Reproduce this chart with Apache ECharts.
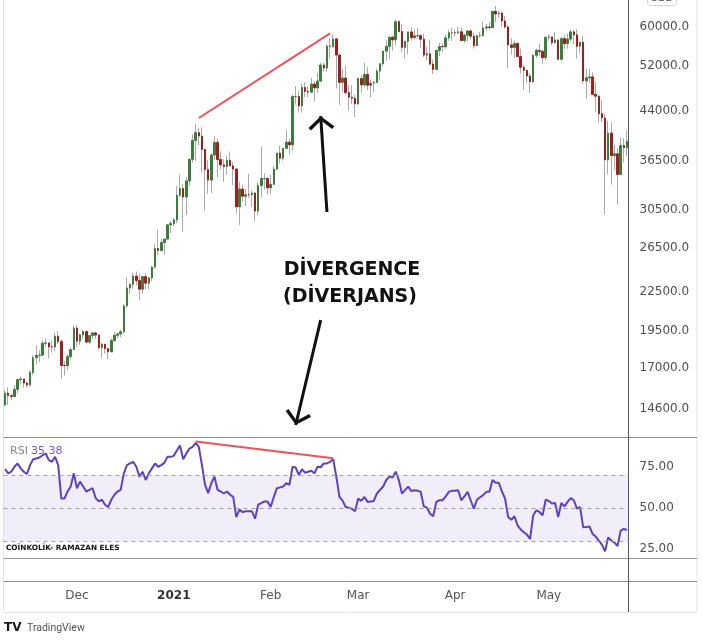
<!DOCTYPE html>
<html><head><meta charset="utf-8">
<script src="https://cdn.jsdelivr.net/npm/echarts@6/dist/echarts.min.js"></script>
<style>html,body{margin:0;padding:0;background:#fff;}#c{width:703px;height:640px;}</style>
</head><body><div id="c"></div>
<script>
// ---- data (daily BTC/USD, 2020-11-08 .. 2021-05-26) ----
const startDate = '2020-11-08';
const opens = [
14833,15479,15333,15290,15701,16276,16317,16068,15955,16716,17645,17804,17817,18621,18642,18370,18364,19107,18733,17150,17139,17719,18184,
19695,18765,19205,19446,18699,19154,19346,19192,18321,18554,18250,18036,18809,19175,19274,19427,21380,22847,23150,23870,23478,22745,23824,23254,23716,24693,26443,26246,27037,27376,28856,
28982,29393,32195,33000,31988,33950,36769,39432,40582,40088,38150,35404,34051,37371,39144,36742,36018,35792,36630,35891,35468,30850,32945,32078,32259,32254,32467,30366,33364,34252,34262,
33092,33526,35466,37618,36936,38290,39186,38795,46374,46420,44807,47969,47287,47153,48577,47911,49133,52119,51552,55906,55841,57408,54087,48891,49676,47073,46276,46106,
45135,49587,48440,50349,48374,48751,48882,50971,52375,54884,55851,57773,57221,61188,59000,55638,56900,58913,57665,58075,58086,57351,54083,54341,52303,51293,55025,55817,55777,57628,58730,
58736,58720,58950,57058,58202,59129,57991,56000,58080,58092,59778,60008,59860,63576,62960,63159,61334,60006,56150,55633,56425,53787,51690,51125,50047,49004,54021,55033,54824,53555,
57750,57828,56610,57200,53241,57473,56428,57380,58928,58280,55859,56704,49150,49716,49880,46760,46456,43538,42849,36690,40527,37290,37536,34770,38705,38402];
const closes = [
15479,15333,15290,15701,16276,16317,16068,15955,16716,17645,17804,17817,18621,18642,18370,18364,19107,18733,17150,17139,17719,18184,19695,
18765,19205,19446,18699,19154,19346,19192,18321,18554,18250,18036,18809,19175,19274,19427,21380,22847,23150,23870,23478,22745,23824,23254,23716,24693,26443,26246,27037,27376,28856,28982,
29393,32195,33000,31988,33950,36769,39432,40582,40088,38150,35404,34051,37371,39144,36742,36018,35792,36630,35891,35468,30850,32945,32078,32259,32254,32467,30366,33364,34252,34262,33092,
33526,35466,37618,36936,38290,39186,38795,46374,46420,44807,47969,47287,47153,48577,47911,49133,52119,51552,55906,55841,57408,54087,48891,49676,47073,46276,46106,45135,
49587,48440,50349,48374,48751,48882,50971,52375,54884,55851,57773,57221,61188,59000,55638,56900,58913,57665,58075,58086,57351,54083,54341,52303,51293,55025,55817,55777,57628,58730,58736,
58720,58950,57058,58202,59129,57991,56000,58080,58092,59778,60008,59860,63576,62960,63159,61334,60006,56150,55633,56425,53787,51690,51125,50047,49004,54021,55033,54824,53555,57750,
57828,56610,57200,53241,57473,56428,57380,58928,58280,55859,56704,49150,49716,49880,46760,46456,43538,42849,36690,40527,37290,37536,34770,38705,38402,39294];
const lows = [
14730,14810,15090,15280,15460,15990,15800,15790,15880,16560,17210,17350,17760,18350,17620,18000,18080,18570,16330,16520,16880,17540,18180,
18330,18510,18920,18600,18560,18920,18920,18200,17650,17910,17570,18020,18710,19000,19050,19290,21250,22350,22780,23070,21850,22380,22710,22720,23450,24520,25830,26100,25880,27340,28000,
28700,29050,32000,28130,29880,33300,36300,36570,38720,35110,30420,32380,32510,36710,34400,35380,33850,34800,35850,33400,30071,28850,31400,30950,31910,30840,29240,29880,32000,32860,32300,
32300,33420,35380,36200,36600,38200,37400,37990,45000,43770,43700,46300,46300,47080,45600,47020,48950,50900,50800,53400,55500,47800,45000,47050,46700,44100,45100,43000,
45000,47100,48100,47500,46300,47100,48900,49300,51900,53000,53200,55000,56100,58900,54600,53300,54200,57000,57300,57800,55500,53700,53000,52100,50430,51200,53900,54700,55400,57000,57000,
57900,58500,56900,56600,56800,57400,55400,55900,57700,57900,59200,59400,59800,61000,62100,60000,59600,51540,54200,53500,53600,50500,47500,48800,47040,48800,53400,53900,52400,53100,
57000,56100,56500,53100,52950,55300,55400,56900,56300,53400,54400,48600,46000,48800,46600,43800,42100,42200,30000,34800,33500,35300,31100,34700,36400,37200];
const highs = [
15650,15820,15460,15940,16330,16480,16320,16140,16860,17800,18480,18130,18800,18950,18690,18770,19390,19470,18900,17440,17860,18330,19860,
19900,19300,19560,19510,19180,19420,19420,19290,18640,18560,18290,18950,19410,19350,19570,21560,23770,23280,24170,24280,24100,23840,24090,23790,24790,26870,28380,27390,27400,28930,29300,
29600,33300,34780,33600,34430,36880,40360,41950,41350,41400,38260,36630,37600,40100,39700,37880,36800,37300,37850,36400,35600,33830,33440,32940,34850,32800,32560,33760,38530,34880,34330,
34700,35900,37650,38700,38300,40940,39700,46750,48200,47340,48630,48900,48150,49700,49000,50630,52600,52550,56300,57500,58350,57500,54200,51400,51950,48400,48400,46640,
49790,50200,52600,51700,49400,49200,51400,52400,54900,57200,58000,58100,61700,61600,60600,56950,58950,60000,59400,59800,58400,58400,55800,57200,53200,55100,56600,56500,58400,59400,59800,
59500,60100,59800,58500,59300,59500,58700,58200,58900,61300,60700,61200,63770,64860,63800,63500,62500,60400,57500,57100,56800,55400,52100,51200,50500,54300,55400,56400,55200,58000,
58400,57900,58900,57200,57900,58300,58600,59500,59300,59500,56900,58000,51400,51500,50700,49000,46600,45800,43500,42400,42200,38800,38300,39900,39800,40900];
const rsiValues = [
73.5,71,72,75,77,74,72,70.6,76,79.6,
80,80.6,82,83,79,78,81,76,55.7,55.7,
60,63,71,62,66,63,60,61,62,56,
54,55,52,50.6,55,58,60,61,71,76,
77,78,75,69,72,67,71,74,77,75,
76,77.5,81,81,81.6,85,87.8,79.6,83,86,
87,89.4,87,76,64,59,65,69,61,60,
58.8,60,58,56.7,44.5,49,47.5,48,48,48,
43.5,52,53,54,54,50.6,56.7,62,62.5,63,
65,64,75,74.5,70,73.5,71.4,72,72.6,71,
75,74.7,77,77,78,79.6,69,56.7,54.5,50.6,
50,49.6,48,55.7,54.3,56.7,53.7,54,54.3,58.8,
61,63,67,69,68.4,72,67,58.8,60.8,63,
60.2,60.8,60.5,59.8,51,50.2,46.5,45,53.7,54.7,
54.7,57,59.8,60.4,60.5,60.8,54.7,57,59.8,54.7,
49.6,55,56.5,57.8,59.8,59.8,67,65.3,65.3,60,
55.7,44.5,42.9,45,39.4,37,35.3,33.9,31.2,45.5,
48.6,47.6,45.5,55,54.3,52.7,53,44.5,53,51,
53.7,56,54.7,49.6,50.6,38.4,38.5,38.8,34.3,32.7,
30.2,27.8,23.7,32.2,30.2,29,27,36.3,37.3,36.7];
const priceTicks = [14600,17000,19500,22500,26500,30500,36500,44000,52000,60000];
const rsiTicks = [25,50,75];
const rsiLevels = [30,50,70];
const tickDates = ['2020-12-01','2021-01-01','2021-02-01','2021-03-01','2021-04-01','2021-05-01'];
const tickTexts = ['Dec','2021','Feb','Mar','Apr','May'];
// annotations (date, value)
const priceDivergence = [['2021-01-09',42850],['2021-02-20',58620]];
const rsiDivergence = [['2021-01-08',90.3],['2021-02-21',80.2]];
const arrowUp = [['2021-02-19',30260],['2021-02-17',43160]];
const arrowDown = [['2021-02-17',20290],['2021-02-09',13760]];

// ---- build ----
const dates = [];
{
  const d0 = new Date(startDate + 'T00:00:00Z');
  for (let i = 0; i < opens.length; i++) {
    const d = new Date(d0.getTime() + i * 86400000);
    dates.push(d.toISOString().slice(0,10));
  }
}
const wickData = opens.map((o,i)=>[o, closes[i], lows[i], highs[i]]);
const bodyData = opens.map((o,i)=>[o, closes[i], Math.min(o,closes[i]), Math.max(o,closes[i])]);

const FONT = 'DejaVu Sans';
const chevron = 'path://M13,-14L13.01,-14L13,-13.99Z M0,11L13,0L26,11L23.6,13.6L13,4.2L2.4,13.6Z';
const L = 3.5, R = 628.5;

const chart = echarts.init(document.getElementById('c'), null, {renderer:'canvas'});
chart.setOption({
  animation: false,
  backgroundColor: '#ffffff',
  textStyle: {fontFamily: FONT},
  grid: [
    {left: L, right: 703 - R, top: 0, height: 437.5},
    {left: L, right: 703 - R, top: 438, height: 120}
  ],
  xAxis: [
    {type:'category', gridIndex:0, data: dates, boundaryGap:true, show:false},
    {type:'category', gridIndex:1, data: dates, boundaryGap:true,
     axisLine:{show:false}, axisTick:{show:false}, splitLine:{show:false},
     axisLabel:{
       interval: (i, v) => tickDates.indexOf(v) >= 0,
       formatter: v => { const k = tickDates.indexOf(v); const t = tickTexts[k];
         return t === '2021' ? '{b|' + t + '}' : t; },
       margin: 32, color:'#555', fontSize:12, fontFamily: FONT,
       rich: {b: {fontWeight:'bold', color:'#333', fontSize:12, fontFamily: FONT}}
     }}
  ],
  yAxis: [
    {type:'log', gridIndex:0, position:'right', min:13138, max:66304, logBase:10,
     axisLine:{show:false}, axisTick:{show:false}, splitLine:{show:false},
     axisLabel:{customValues: priceTicks, formatter: v => Number(v).toFixed(1),
       color:'#505050', fontSize:12, fontFamily: FONT, margin:11}},
    {type:'value', gridIndex:1, position:'right', min:19.7, max:92.42,
     axisLine:{show:false}, axisTick:{show:false}, splitLine:{show:false},
     axisLabel:{customValues: rsiTicks, formatter: v => Number(v).toFixed(2),
       color:'#505050', fontSize:12, fontFamily: FONT, margin:11}}
  ],
  series: [
    {type:'candlestick', name:'wick', xAxisIndex:0, yAxisIndex:0, data: wickData, barWidth:1,
     silent:true,
     itemStyle:{color:'#aaaaaa', color0:'#aaaaaa', borderColor:'#aaaaaa', borderColor0:'#aaaaaa', borderWidth:1}},
    {type:'candlestick', name:'body', xAxisIndex:0, yAxisIndex:0, data: bodyData, barWidth:2,
     silent:true,
     itemStyle:{color:'#3b7d3b', color0:'#a01e1e', borderColor:'#3b7d3b', borderColor0:'#a01e1e', borderWidth:1},
     markLine:{silent:true, symbol:['none','none'], label:{show:false}, animation:false,
       data:[
         [{coord: priceDivergence[0], lineStyle:{color:'#f0505c', width:2, type:'solid'}}, {coord: priceDivergence[1]}],
         [{coord: arrowUp[0], symbol:'none', lineStyle:{color:'#111', width:3, type:'solid'}}, {coord: arrowUp[1], symbol: chevron, symbolSize:[26,27.6]}],
         [{coord: arrowDown[0], symbol:'none', lineStyle:{color:'#111', width:3, type:'solid'}}, {coord: arrowDown[1], symbol: chevron, symbolSize:[26,27.6]}]
       ]}},
    {type:'line', name:'RSI', xAxisIndex:1, yAxisIndex:1, data: rsiValues, showSymbol:false, symbol:'none',
     silent:true,
     lineStyle:{color:'#5e41c2', width:2},
     markArea:{silent:true, itemStyle:{color:'rgba(126,87,194,0.1)'}, data:[[{yAxis: rsiLevels[0]},{yAxis: rsiLevels[2]}]]},
     markLine:{silent:true, symbol:['none','none'], label:{show:false}, animation:false,
       lineStyle:{color:'#a0a0a0', width:1, type:[4,4]},
       data: rsiLevels.map(v => ({yAxis: v})).concat([
         [{coord: rsiDivergence[0], lineStyle:{color:'#f0505c', width:2, type:'solid'}}, {coord: rsiDivergence[1]}]
       ])}}
  ],
  graphic: [
    {type:'line', shape:{x1:L, y1:0, x2:L, y2:612}, style:{stroke:'#e0e3eb', lineWidth:1}, silent:true},
    {type:'line', shape:{x1:697, y1:0, x2:697, y2:612}, style:{stroke:'#e0e3eb', lineWidth:1}, silent:true},
    {type:'line', shape:{x1:L, y1:437.5, x2:697, y2:437.5}, style:{stroke:'#8a8a8a', lineWidth:1}, silent:true},
    {type:'line', shape:{x1:L, y1:558.5, x2:697, y2:558.5}, style:{stroke:'#9a9a9a', lineWidth:1}, silent:true},
    {type:'line', shape:{x1:L, y1:581.5, x2:697, y2:581.5}, style:{stroke:'#8a8a8a', lineWidth:1}, silent:true},
    {type:'line', shape:{x1:L, y1:612.5, x2:697, y2:612.5}, style:{stroke:'#e0e3eb', lineWidth:1}, silent:true},
    {type:'line', shape:{x1:R, y1:0, x2:R, y2:612}, style:{stroke:'#555555', lineWidth:1}, silent:true},
    {type:'rect', shape:{x:647.5, y:-7.5, width:29, height:13, r:3}, style:{fill:'#fff', stroke:'#d1d4dc', lineWidth:1}, silent:true},
    {type:'text', x:662, y:-2, style:{text:'USD', fill:'#555', font:'11px "DejaVu Sans"', align:'center', verticalAlign:'middle'}, silent:true},
    {type:'text', x:10, y:451, style:{text:'RSI', fill:'#888', font:'11px "DejaVu Sans"', verticalAlign:'middle'}, silent:true},
    {type:'text', x:31, y:451, style:{text:'35.38', fill:'#7e57c2', font:'11px "DejaVu Sans"', verticalAlign:'middle'}, silent:true},
    {type:'text', x:6, y:548, style:{text:'COİNKOLİK- RAMAZAN ELES', fill:'#111', font:'bold 7.3px "DejaVu Sans"', verticalAlign:'middle'}, silent:true},
    {type:'text', x:352, y:270, style:{text:'DİVERGENCE', fill:'#111', font:'bold 19px "DejaVu Sans"', align:'center', verticalAlign:'middle'}, silent:true},
    {type:'text', x:350, y:297, style:{text:'(DİVERJANS)', fill:'#111', font:'bold 19px "DejaVu Sans"', align:'center', verticalAlign:'middle'}, silent:true},
    {type:'text', x:4, y:628, style:{text:'TV', fill:'#131722', font:'bold 12px "DejaVu Sans"', verticalAlign:'middle'}, silent:true},
    {type:'text', x:27, y:628, style:{text:'TradingView', fill:'#555', font:'10.5px Roboto', verticalAlign:'middle'}, silent:true}
  ]
});
</script></body></html>
